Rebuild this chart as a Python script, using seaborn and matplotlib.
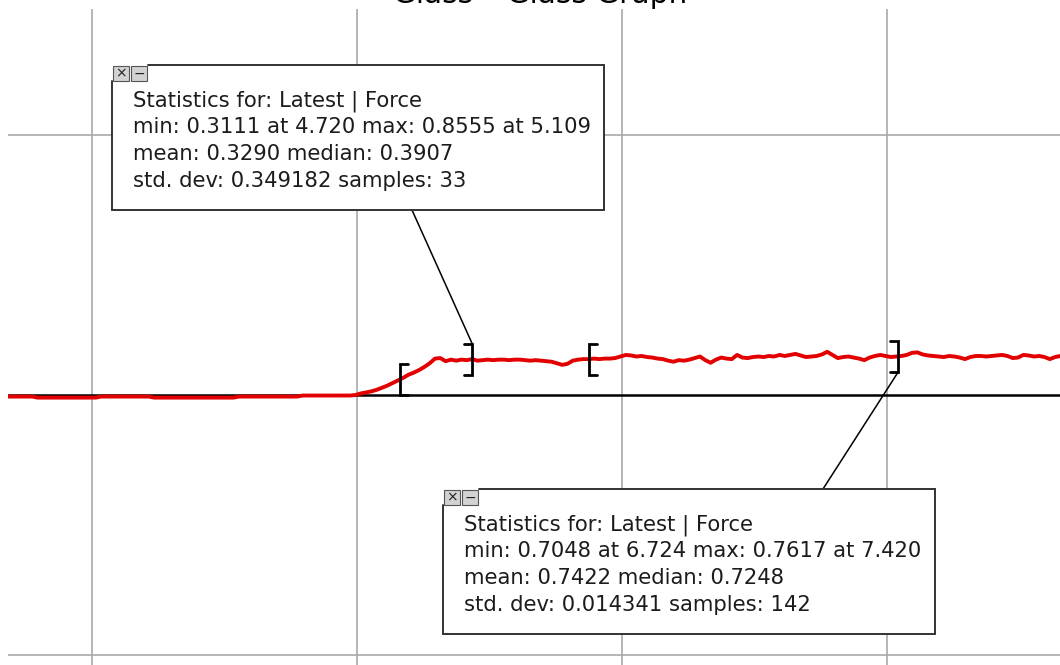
import numpy as np
import pandas as pd
import matplotlib
matplotlib.use("Agg")
import matplotlib.pyplot as plt
from matplotlib.patches import Rectangle
import seaborn as sns

# ---- data -----------------------------------------------------------------
time = np.round(np.arange(1.0, 11.0001, 0.05), 2)          # s, sample times
force = [
    # 1.00 - 1.95
    -0.03, -0.03, -0.03, -0.03, -0.03, -0.03, -0.05, -0.05, -0.05, -0.05,
    -0.05, -0.05, -0.05, -0.05, -0.05, -0.05, -0.05, -0.05, -0.03, -0.03,
    # 2.00 - 2.95
    -0.03, -0.03, -0.03, -0.03, -0.03, -0.03, -0.03, -0.03, -0.05, -0.05,
    -0.05, -0.05, -0.05, -0.05, -0.05, -0.05, -0.05, -0.05, -0.05, -0.05,
    # 3.00 - 3.95
    -0.05, -0.05, -0.05, -0.05, -0.03, -0.03, -0.03, -0.03, -0.03, -0.03,
    -0.03, -0.03, -0.03, -0.03, -0.03, -0.03, -0.01, -0.01, -0.01, -0.01,
    # 4.00 - 4.95
    -0.01, -0.01, -0.01, -0.01, -0.01, -0.01, 0.00, 0.03, 0.05, 0.07,
    0.10, 0.14, 0.18, 0.23, 0.28, 0.33, 0.39, 0.43, 0.48, 0.54,
    # 5.00 - 5.95
    0.61, 0.70, 0.71, 0.65, 0.68, 0.66, 0.68, 0.67, 0.69, 0.66,
    0.67, 0.68, 0.67, 0.68, 0.68, 0.67, 0.68, 0.68, 0.67, 0.66,
    # 6.00 - 6.95
    0.67, 0.66, 0.65, 0.64, 0.61, 0.58, 0.60, 0.66, 0.68, 0.69,
    0.69, 0.70, 0.69, 0.70, 0.70, 0.71, 0.74, 0.77, 0.76, 0.74,
    # 7.00 - 7.95
    0.75, 0.73, 0.72, 0.70, 0.69, 0.66, 0.64, 0.67, 0.66, 0.68,
    0.71, 0.74, 0.67, 0.62, 0.68, 0.72, 0.70, 0.69, 0.77, 0.72,
    # 8.00 - 8.95
    0.71, 0.73, 0.74, 0.73, 0.75, 0.74, 0.77, 0.75, 0.77, 0.79,
    0.76, 0.73, 0.74, 0.75, 0.78, 0.83, 0.77, 0.71, 0.73, 0.74,
    # 9.00 - 9.95
    0.72, 0.70, 0.67, 0.72, 0.75, 0.77, 0.75, 0.73, 0.74, 0.75,
    0.77, 0.81, 0.82, 0.78, 0.76, 0.75, 0.74, 0.73, 0.75, 0.74,
    # 10.00 - 10.95
    0.72, 0.69, 0.73, 0.75, 0.75, 0.74, 0.75, 0.76, 0.77, 0.75,
    0.71, 0.72, 0.77, 0.76, 0.74, 0.75, 0.73, 0.69, 0.73, 0.75,
    # 11.00
    0.74,
]

grid_times = [1.81, 4.31, 6.81, 9.31]
grid_forces = [-5, 5]

# selected ranges and their reported statistics
range_a = (4.720, 5.400)
range_b = (6.500, 9.420)
stats_a = dict(vmin=0.3111, tmin=4.720, vmax=0.8555, tmax=5.109,
               mean=0.3290, median=0.3907, std=0.349182, n=33)
stats_b = dict(vmin=0.7048, tmin=6.724, vmax=0.7617, tmax=7.420,
               mean=0.7422, median=0.7248, std=0.014341, n=142)
run_name = "Latest"
column_name = "Force"
title = "Glass \u2013 Glass Graph"

# ---- figure ---------------------------------------------------------------
W, H = 1060, 665
sns.set_theme(style="white")
plt.rcParams["font.family"] = ["DejaVu Sans"]

fig = plt.figure(figsize=(W / 100, H / 100), dpi=100)
fig.patch.set_facecolor("white")

# graph area starts 8 px from the left and 9 px below the top edge
ax = fig.add_axes([8 / W, 0, 1 - 8 / W, 1 - 9 / H])
ax.set_xlim(1.022, 10.946)
ax.set_ylim(-5.19, 7.42)
for s in ax.spines.values():
    s.set_visible(False)
ax.set_xticks(grid_times)
ax.set_yticks(grid_forces)
ax.tick_params(length=0, labelbottom=False, labelleft=False)
ax.grid(True, color="#a9a9a9", lw=1.2)
ax.set_axisbelow(True)
ax.axhline(0, color="black", lw=1.8, zorder=2)

df = pd.DataFrame({"time": time, "force": force})
sns.lineplot(data=df, x="time", y="force", ax=ax, color="#e30000",
             lw=2.8, zorder=3, legend=False)
ax.set_xlabel("")
ax.set_ylabel("")

# range brackets around the selected data
half = 0.30     # bracket half height (force units)
serif = 0.075   # bracket serif length (s)
ends = []
for t0, t1 in (range_a, range_b):
    v0 = np.interp(t0, time, force)
    v1 = np.interp(t1, time, force)
    ax.plot([t0 + serif, t0, t0, t0 + serif], [v0 + half, v0 + half, v0 - half, v0 - half],
            color="black", lw=2.0, zorder=4, solid_joinstyle="miter")
    ax.plot([t1 - serif, t1, t1, t1 - serif], [v1 + half, v1 + half, v1 - half, v1 - half],
            color="black", lw=2.0, zorder=4, solid_joinstyle="miter")
    ends.append((t1, v1))

# overlay in pixel units for the statistics cards
ov = fig.add_axes([0, 0, 1, 1], zorder=5)
ov.set_xlim(0, W)
ov.set_ylim(H, 0)
ov.axis("off")
ov.patch.set_visible(False)


def to_px(t, v):
    return ov.transData.inverted().transform(ax.transData.transform((t, v)))


def stat_lines(s):
    return [
        f"Statistics for: {run_name} | {column_name}",
        f"min: {s['vmin']:.4f} at {s['tmin']:.3f} max: {s['vmax']:.4f} at {s['tmax']:.3f}",
        f"mean: {s['mean']:.4f} median: {s['median']:.4f}",
        f"std. dev: {s['std']:.6f} samples: {s['n']}",
    ]


def stat_box(left, top, lines, width=492, height=145):
    ov.add_patch(Rectangle((left, top), width, height, facecolor="white",
                           edgecolor="none", zorder=5))
    pts = [(left + 36, top), (left + width, top), (left + width, top + height),
           (left, top + height), (left, top + 16)]
    xs, ys = zip(*pts)
    ov.plot(xs, ys, color="#333333", lw=1.4, zorder=6, solid_joinstyle="miter")
    for i, glyph in enumerate(["\u00d7", "\u2212"]):
        bx = left + 1 + i * 18
        ov.add_patch(Rectangle((bx, top + 1), 16, 15, facecolor="#d2d2d2",
                               edgecolor="#555555", lw=0.8, zorder=7))
        ov.text(bx + 8, top + 8.5, glyph, ha="center", va="center",
                fontsize=10, color="#222222", zorder=8)
    for k, line in enumerate(lines):
        ov.text(left + 21, top + 41 + 27 * k, line, fontsize=15.2,
                va="baseline", ha="left", color="#1c1c1c", zorder=8)


# leader lines from the cards to the closing brackets
pa = to_px(ends[0][0], ends[0][1] + half)
ov.plot([412, pa[0]], [210, pa[1]], color="black", lw=1.1, zorder=4)
pb = to_px(ends[1][0], ends[1][1] - half)
ov.plot([pb[0], 823], [pb[1], 489], color="black", lw=1.1, zorder=4)

stat_box(112, 65, stat_lines(stats_a))
stat_box(443, 489, stat_lines(stats_b))

fig.text(540 / W, 1 - 3 / H, title, ha="center", va="baseline",
         fontsize=21.3, color="black")

fig.savefig("out.png", dpi=100, facecolor="white")
